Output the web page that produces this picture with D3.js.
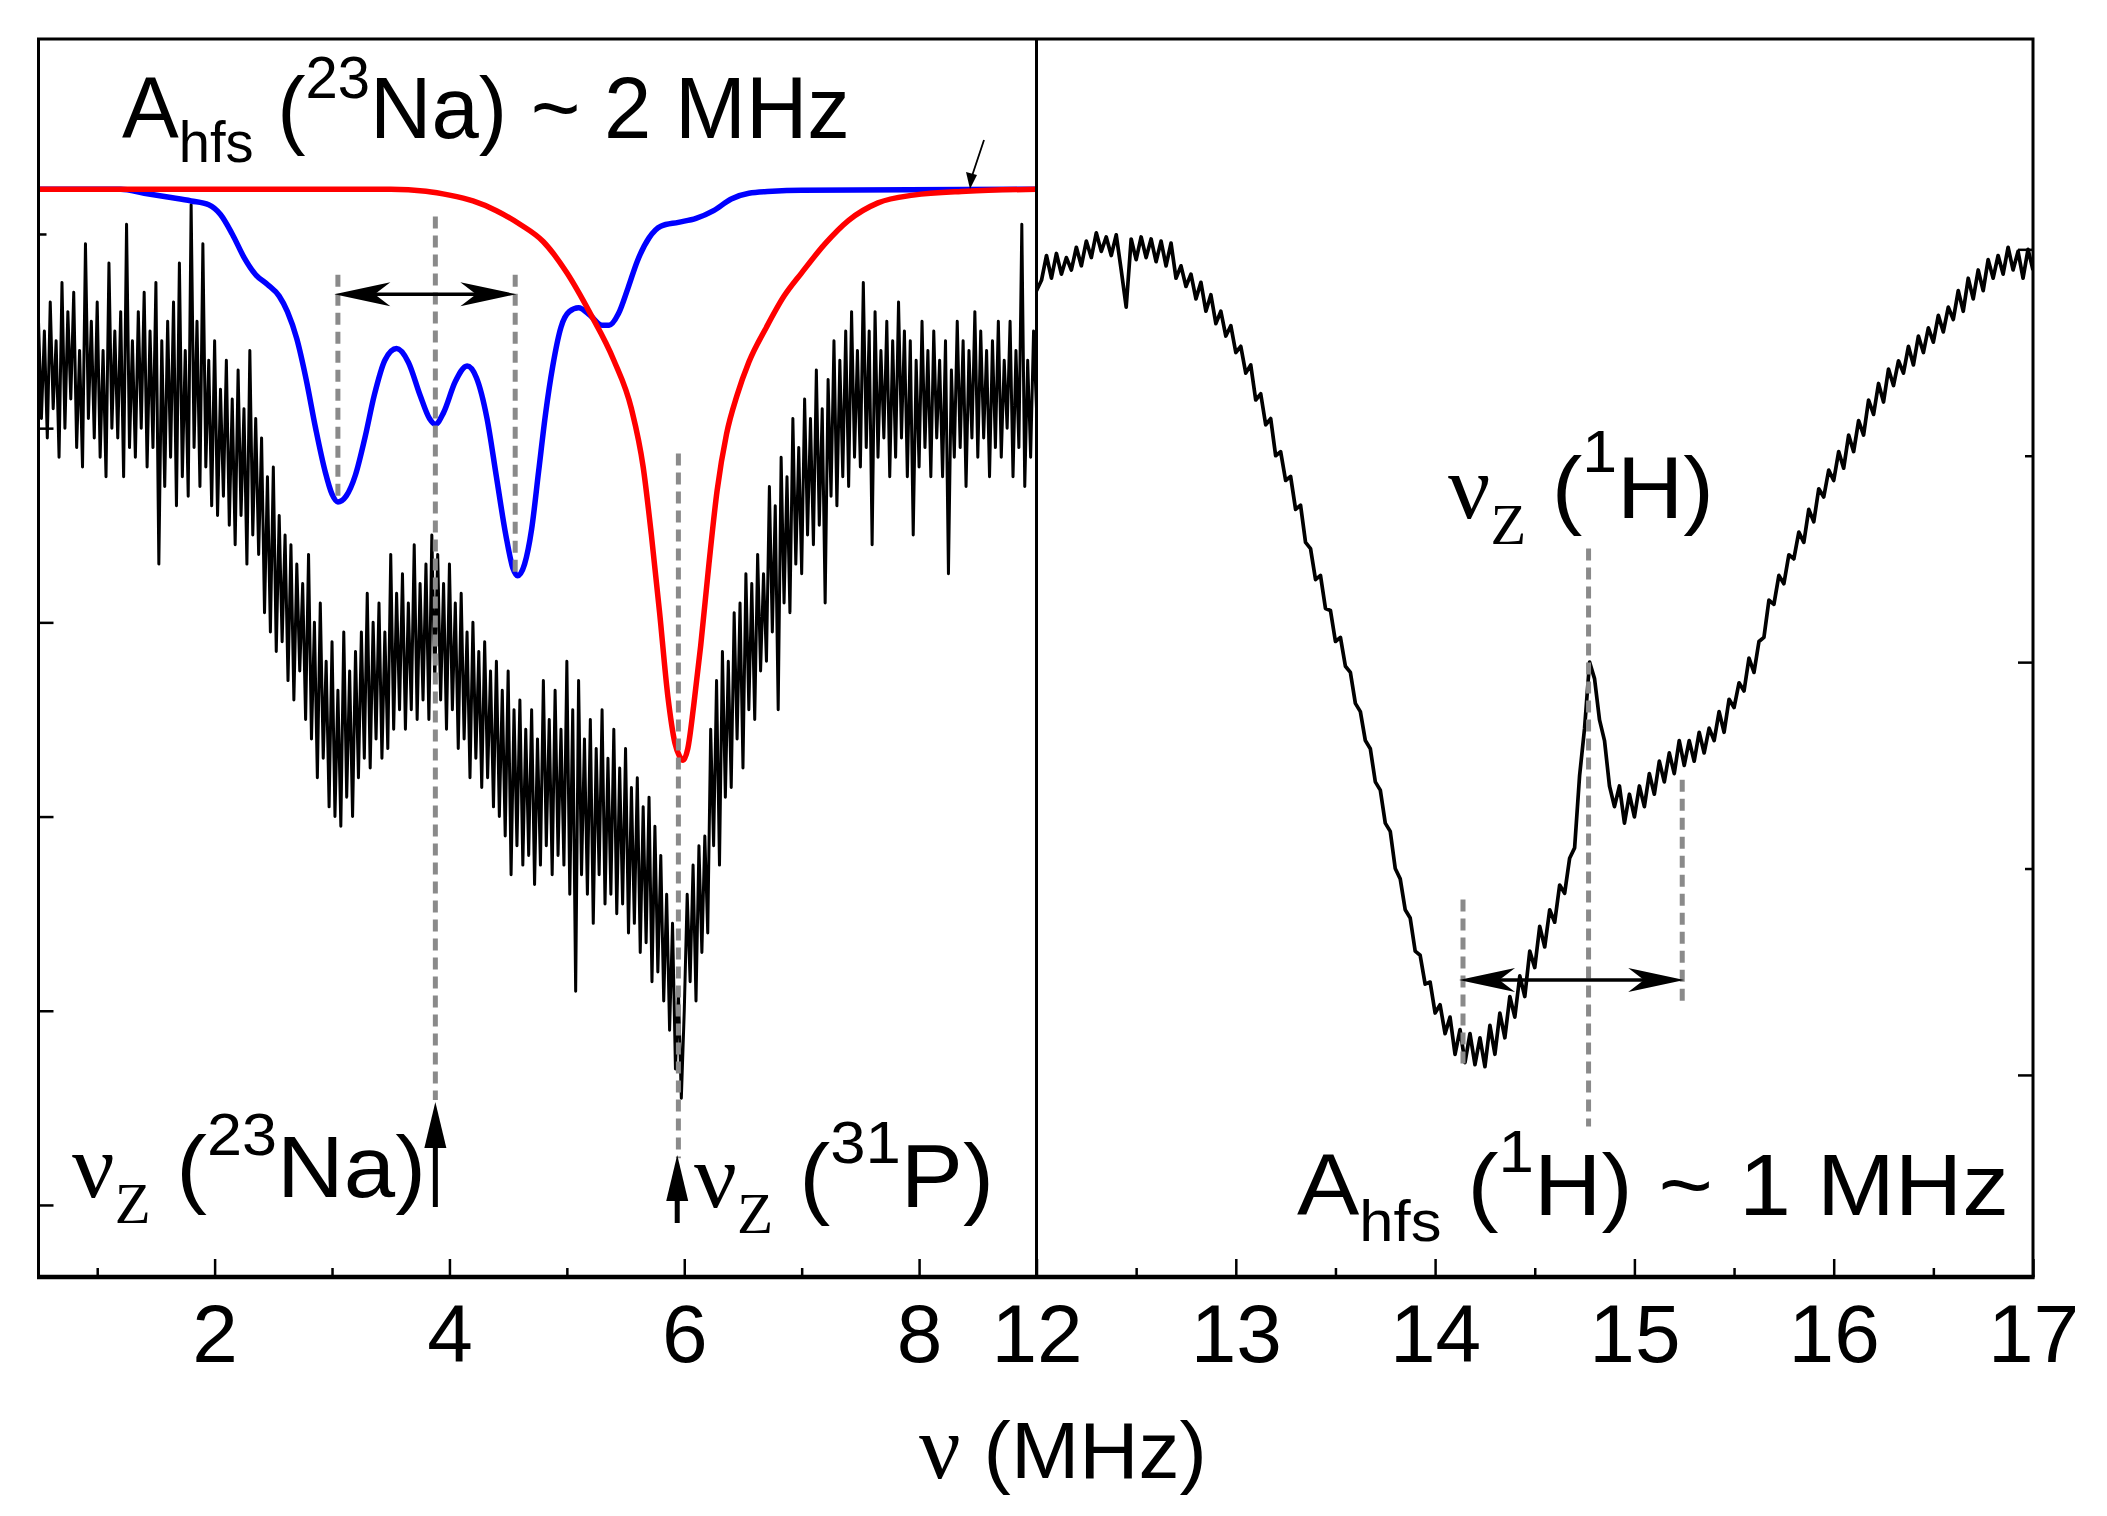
<!DOCTYPE html>
<html>
<head>
<meta charset="utf-8">
<script src="https://cdn.jsdelivr.net/npm/d3@7"></script>
<style>
  body { margin: 0; background: #fff; }
  text { fill: #000; }
</style>
</head>
<body>
<svg id="chart" width="2107" height="1516"></svg>
<script>
// ---- data ----
// left panel: measured trace, 0.5 .. 9 MHz every 0.025 MHz (one row = 0.5 MHz)
const naStart = 0.5, naStep = 0.025;
const naSignal = [
  4.55, 4.05, 4.50, 3.95, 4.65, 4.10, 4.45, 3.85, 4.75, 4.00, 4.60, 4.15, 4.70, 3.90, 4.40, 3.80, 4.95, 4.05, 4.55, 3.95,
  4.65, 3.85, 4.40, 3.75, 4.85, 4.00, 4.50, 3.95, 4.60, 3.75, 5.05, 3.90, 4.45, 3.85, 4.60, 4.00, 4.70, 3.80, 4.50, 3.90,
  4.75, 3.30, 4.45, 3.70, 4.55, 3.85, 4.65, 3.60, 4.85, 3.75, 4.40, 3.65, 5.15, 3.90, 4.55, 3.70, 4.95, 3.80, 4.35, 3.60,
  4.45, 3.55, 4.20, 3.65, 4.35, 3.50, 4.15, 3.40, 4.30, 3.55, 4.10, 3.30, 4.40, 3.45, 4.05, 3.35, 3.95, 3.05, 3.75, 2.95,
  3.80, 2.85, 3.55, 2.90, 3.45, 2.70, 3.40, 2.60, 3.30, 2.75, 3.20, 2.50, 3.35, 2.40, 3.00, 2.20, 3.10, 2.30, 2.80, 2.05,
  2.90, 2.00, 2.65, 1.95, 2.95, 2.10, 2.75, 2.00, 2.85, 2.20, 2.95, 2.30, 3.15, 2.25, 3.00, 2.40, 3.10, 2.30, 2.95, 2.35,
  3.35, 2.45, 3.15, 2.55, 3.25, 2.45, 3.10, 2.55, 3.40, 2.50, 3.20, 2.60, 3.30, 2.50, 3.45, 2.70, 3.35, 2.60, 3.20, 2.45,
  3.30, 2.55, 3.10, 2.35, 3.15, 2.40, 2.95, 2.20, 3.00, 2.30, 2.85, 2.15, 2.90, 2.20, 2.75, 2.05, 2.80, 2.00, 2.65, 1.90,
  2.75, 1.70, 2.55, 1.85, 2.60, 1.75, 2.45, 1.80, 2.55, 1.65, 2.40, 1.75, 2.70, 1.85, 2.50, 1.70, 2.65, 1.80, 2.45, 1.75,
  2.80, 1.60, 2.55, 1.10, 2.70, 1.70, 2.40, 1.60, 2.50, 1.45, 2.35, 1.70, 2.55, 1.55, 2.30, 1.60, 2.45, 1.50, 2.25, 1.55,
  2.35, 1.40, 2.15, 1.45, 2.20, 1.30, 2.05, 1.35, 2.10, 1.15, 1.95, 1.20, 1.80, 1.05, 1.60, 0.90, 1.45, 0.70, 1.10, 0.55,
  1.00, 1.60, 1.15, 1.75, 1.05, 1.85, 1.30, 1.90, 1.40, 2.45, 1.85, 2.70, 1.75, 2.85, 2.10, 2.80, 2.15, 3.05, 2.40, 3.10,
  2.25, 3.25, 2.55, 3.20, 2.50, 3.35, 2.75, 3.25, 2.80, 3.70, 2.95, 3.60, 2.55, 3.85, 3.10, 3.75, 3.05, 4.05, 3.30, 3.90,
  3.25, 4.15, 3.45, 4.05, 3.40, 4.30, 3.50, 4.10, 3.10, 4.25, 3.65, 4.45, 3.60, 4.35, 3.75, 4.50, 3.70, 4.60, 3.85, 4.40,
  3.80, 4.75, 3.90, 4.50, 3.40, 4.60, 3.85, 4.40, 3.95, 4.55, 3.75, 4.45, 3.85, 4.65, 3.95, 4.50, 3.75, 4.45, 3.45, 4.35,
  3.80, 4.55, 3.90, 4.40, 3.75, 4.50, 3.95, 4.35, 3.75, 4.45, 3.25, 4.30, 3.85, 4.55, 3.90, 4.45, 3.70, 4.40, 3.95, 4.60,
  3.85, 4.50, 3.95, 4.40, 3.75, 4.45, 3.90, 4.55, 3.85, 4.35, 4.00, 4.55, 3.75, 4.40, 3.90, 5.05, 3.70, 4.35, 3.85, 4.50,
  4.10
];

// right panel: measured trace, 12 .. 17 MHz every 0.025 MHz
const hStart = 12.0, hStep = 0.025;
const hSignal = [
  3.80, 3.85, 3.97, 3.86, 3.98, 3.88, 3.96, 3.90, 4.01, 3.92,
  4.04, 3.96, 4.08, 3.99, 4.06, 3.97, 4.07, 3.90, 3.72, 4.05,
  3.95, 4.06, 3.96, 4.05, 3.94, 4.04, 3.92, 4.03, 3.86, 3.92,
  3.82, 3.88, 3.76, 3.84, 3.70, 3.78, 3.64, 3.70, 3.58, 3.63,
  3.50, 3.53, 3.40, 3.44, 3.27, 3.30, 3.15, 3.18, 3.00, 3.02,
  2.88, 2.90, 2.74, 2.76, 2.58, 2.55, 2.40, 2.42, 2.26, 2.25,
  2.10, 2.12, 1.98, 1.95, 1.80, 1.76, 1.62, 1.58, 1.42, 1.38,
  1.22, 1.18, 1.00, 0.95, 0.80, 0.76, 0.60, 0.58, 0.44, 0.45,
  0.30, 0.34, 0.20, 0.28, 0.10, 0.22, 0.06, 0.20, 0.05, 0.18,
  0.04, 0.24, 0.10, 0.30, 0.18, 0.38, 0.28, 0.48, 0.38, 0.60,
  0.52, 0.72, 0.62, 0.80, 0.74, 0.92, 0.88, 1.05, 1.10, 1.45,
  1.68, 2.00, 1.92, 1.72, 1.62, 1.40, 1.30, 1.40, 1.22, 1.36,
  1.25, 1.40, 1.30, 1.46, 1.36, 1.52, 1.42, 1.56, 1.46, 1.62,
  1.50, 1.62, 1.52, 1.66, 1.56, 1.68, 1.62, 1.76, 1.66, 1.82,
  1.78, 1.90, 1.86, 2.02, 1.95, 2.10, 2.12, 2.30, 2.28, 2.42,
  2.38, 2.52, 2.50, 2.63, 2.58, 2.74, 2.68, 2.84, 2.80, 2.93,
  2.88, 3.02, 2.94, 3.10, 3.02, 3.17, 3.10, 3.27, 3.20, 3.35,
  3.26, 3.42, 3.34, 3.46, 3.40, 3.53, 3.44, 3.58, 3.50, 3.62,
  3.55, 3.68, 3.60, 3.72, 3.66, 3.80, 3.70, 3.86, 3.76, 3.90,
  3.80, 3.95, 3.86, 3.97, 3.88, 4.01, 3.90, 3.99, 3.86, 4.00,
  3.90
];

// simulated spectra (left panel)
const blueFreq = [0.5, 1.2, 1.4, 1.6, 1.8, 1.95, 2.05, 2.15, 2.25, 2.35, 2.45, 2.55, 2.62, 2.70, 2.78,
  2.86, 2.94, 3.00, 3.05, 3.12, 3.20, 3.28, 3.36, 3.45, 3.55, 3.65, 3.75, 3.83, 3.88, 3.95, 4.05,
  4.15, 4.23, 4.32, 4.40, 4.48, 4.54, 4.58, 4.64, 4.70, 4.76, 4.82, 4.88, 4.95, 5.02, 5.10, 5.20,
  5.30, 5.36, 5.44, 5.52, 5.60, 5.70, 5.80, 5.95, 6.10, 6.25, 6.40, 6.55, 6.75, 7.0, 9.0];
const blueVal = [5.23, 5.23, 5.21, 5.19, 5.17, 5.15, 5.10, 5.00, 4.88, 4.79, 4.74, 4.68, 4.60, 4.46, 4.25,
  4.00, 3.78, 3.66, 3.62, 3.65, 3.76, 3.95, 4.17, 4.35, 4.41, 4.34, 4.17, 4.05, 4.02, 4.08, 4.24,
  4.32, 4.26, 4.05, 3.75, 3.45, 3.28, 3.24, 3.30, 3.48, 3.78, 4.08, 4.32, 4.52, 4.60, 4.62, 4.58,
  4.53, 4.53, 4.59, 4.72, 4.86, 4.98, 5.04, 5.06, 5.08, 5.12, 5.18, 5.21, 5.22, 5.225, 5.23];
const redFreq = [0.5, 3.5, 3.8, 4.0, 4.2, 4.4, 4.6, 4.8, 5.0, 5.2, 5.4, 5.55, 5.65, 5.72, 5.79, 5.86, 5.92,
  5.96, 5.99, 6.03, 6.08, 6.14, 6.21, 6.28, 6.36, 6.45, 6.55, 6.70, 6.85, 7.0, 7.2, 7.4, 7.65, 7.95, 8.4, 9.0];
const redVal = [5.23, 5.23, 5.22, 5.20, 5.17, 5.12, 5.05, 4.96, 4.80, 4.59, 4.35, 4.10, 3.80, 3.45, 3.05, 2.62, 2.38,
  2.31, 2.29, 2.35, 2.57, 2.88, 3.30, 3.68, 3.97, 4.17, 4.34, 4.52, 4.68, 4.80, 4.95, 5.07, 5.16, 5.20, 5.22, 5.23];

// ticks
const leftMajor = [2, 4, 6, 8];
const leftMinor = [1, 3, 5, 7];
const rightMajor = [12, 13, 14, 15, 16, 17];
const rightMinor = [12.5, 13.5, 14.5, 15.5, 16.5];
const leftYMajor = [0, 1, 2, 3, 4];
const leftYMinor = [5];
const rightYMajor = [0, 2, 4];
const rightYMinor = [1, 3];

// ---- layout ----
const W = 2107, H = 1516;
const plotTop = 39, plotBottom = 1277;
const leftX0 = 38.5, midX = 1036.5, rightX1 = 2033;
const SANS = '"Liberation Sans", Arial, sans-serif';
const SERIF = '"Liberation Serif", "Times New Roman", serif';

const xL = d3.scaleLinear().domain([0.5, 9]).range([leftX0, midX]);
const xR = d3.scaleLinear().domain([12, 17]).range([midX, rightX1]);
const yL = d3.scaleLinear().domain([-0.371, 6.004]).range([plotBottom, plotTop]);
const yR = d3.scaleLinear().domain([-0.979, 5.019]).range([plotBottom, plotTop]);

const svg = d3.select('#chart');
svg.append('rect').attr('width', W).attr('height', H).attr('fill', '#fff');

const defs = svg.append('defs');
defs.append('clipPath').attr('id', 'clipL').append('rect')
  .attr('x', leftX0).attr('y', plotTop).attr('width', midX - leftX0).attr('height', plotBottom - plotTop);
defs.append('clipPath').attr('id', 'clipR').append('rect')
  .attr('x', midX).attr('y', plotTop).attr('width', rightX1 - midX).attr('height', plotBottom - plotTop);

// ---- traces ----
const naPts = naSignal.map((v, i) => [naStart + i * naStep, v]);
const hPts = hSignal.map((v, i) => [hStart + i * hStep, v]);

const lineL = d3.line().x(d => xL(d[0])).y(d => yL(d[1]));
const lineR = d3.line().x(d => xR(d[0])).y(d => yR(d[1]));
const smoothL = d3.line().x(d => xL(d[0])).y(d => yL(d[1])).curve(d3.curveMonotoneX);

const gL = svg.append('g').attr('clip-path', 'url(#clipL)');
gL.append('path').attr('d', lineL(naPts))
  .attr('fill', 'none').attr('stroke', '#000').attr('stroke-width', 3).attr('stroke-linejoin', 'round');
gL.append('path').attr('d', smoothL(blueFreq.map((f, i) => [f, blueVal[i]])))
  .attr('fill', 'none').attr('stroke', '#0000ff').attr('stroke-width', 5.5);
gL.append('path').attr('d', smoothL(redFreq.map((f, i) => [f, redVal[i]])))
  .attr('fill', 'none').attr('stroke', '#ff0000').attr('stroke-width', 5.5);

const gR = svg.append('g').attr('clip-path', 'url(#clipR)');
gR.append('path').attr('d', lineR(hPts))
  .attr('fill', 'none').attr('stroke', '#000').attr('stroke-width', 3.7).attr('stroke-linejoin', 'round');

// ---- dashed guide lines ----
const dashL = [[3.05, 4.79, 3.63], [3.88, 5.09, 0.54], [4.56, 4.79, 3.25], [5.95, 3.87, 0.24]];
const dashR = [[14.14, 0.85, 0.05], [14.77, 2.55, -0.25], [15.24, 1.43, 0.34]];
function dashed(x, y1, y2) {
  svg.append('line').attr('x1', x).attr('x2', x).attr('y1', y1).attr('y2', y2)
    .attr('stroke', '#8a8a8a').attr('stroke-width', 5).attr('stroke-dasharray', '12 7');
}
dashL.forEach(d => dashed(xL(d[0]), yL(d[1]), yL(d[2])));
dashR.forEach(d => dashed(xR(d[0]), yR(d[1]), yR(d[2])));

// ---- arrows ----
function barb(x, y, dir) { // dir = +1 head points right, -1 head points left
  const L = 56, Wd = 12;
  return `M${x},${y} L${x - dir * L},${y - Wd} L${x - dir * L * 0.72},${y} L${x - dir * L},${y + Wd} Z`;
}
function doubleArrow(x1, x2, y) {
  svg.append('line').attr('x1', x1 + 10).attr('x2', x2 - 10).attr('y1', y).attr('y2', y)
    .attr('stroke', '#000').attr('stroke-width', 3.5);
  svg.append('path').attr('d', barb(x1, y, -1)).attr('fill', '#000');
  svg.append('path').attr('d', barb(x2, y, 1)).attr('fill', '#000');
}
doubleArrow(xL(3.02), xL(4.57), yL(4.69));
doubleArrow(xR(14.12), xR(15.25), yR(0.46));

function upArrow(x, yBase, yTip) {
  svg.append('line').attr('x1', x).attr('x2', x).attr('y1', yBase).attr('y2', yTip + 30)
    .attr('stroke', '#000').attr('stroke-width', 5);
  svg.append('path').attr('d', `M${x},${yTip} L${x - 11},${yTip + 46} L${x + 11},${yTip + 46} Z`).attr('fill', '#000');
}
upArrow(xL(3.88), 1207, 1102);
upArrow(xL(5.94), 1223, 1155);

// small pointer onto the baseline
svg.append('line').attr('x1', 984).attr('y1', 140).attr('x2', 972).attr('y2', 176)
  .attr('stroke', '#000').attr('stroke-width', 1.8);
svg.append('path').attr('d', 'M970,189 L966,172 L977,175 Z').attr('fill', '#000');

// ---- frame and axes ----
const frame = svg.append('g').attr('fill', 'none').attr('stroke', '#000');
frame.append('rect').attr('x', leftX0).attr('y', plotTop)
  .attr('width', rightX1 - leftX0).attr('height', plotBottom - plotTop).attr('stroke-width', 3);
frame.append('line').attr('x1', midX).attr('x2', midX).attr('y1', plotTop).attr('y2', plotBottom)
  .attr('stroke-width', 3);
frame.append('line').attr('x1', leftX0 - 1.5).attr('x2', rightX1 + 1.5).attr('y1', plotBottom).attr('y2', plotBottom)
  .attr('stroke-width', 4.5);

function styleAxis(g) {
  g.select('.domain').remove();
  g.selectAll('.tick line').attr('stroke', '#000').attr('stroke-width', 2.5);
  g.selectAll('.tick text').attr('font-family', SANS).attr('font-size', 82).attr('fill', '#000');
}
svg.append('g').attr('transform', `translate(0,${plotBottom})`)
  .call(d3.axisBottom(xL).tickValues(leftMajor).tickSizeInner(-18).tickSizeOuter(0).tickPadding(27).tickFormat(d3.format('d')))
  .call(styleAxis);
svg.append('g').attr('transform', `translate(0,${plotBottom})`)
  .call(d3.axisBottom(xL).tickValues(leftMinor).tickSizeInner(-9).tickSizeOuter(0).tickFormat(''))
  .call(styleAxis);
svg.append('g').attr('transform', `translate(0,${plotBottom})`)
  .call(d3.axisBottom(xR).tickValues(rightMajor).tickSizeInner(-18).tickSizeOuter(0).tickPadding(27).tickFormat(d3.format('d')))
  .call(styleAxis);
svg.append('g').attr('transform', `translate(0,${plotBottom})`)
  .call(d3.axisBottom(xR).tickValues(rightMinor).tickSizeInner(-9).tickSizeOuter(0).tickFormat(''))
  .call(styleAxis);

svg.append('g').attr('transform', `translate(${leftX0},0)`)
  .call(d3.axisLeft(yL).tickValues(leftYMajor).tickSizeInner(-15).tickSizeOuter(0).tickFormat(''))
  .call(styleAxis);
svg.append('g').attr('transform', `translate(${leftX0},0)`)
  .call(d3.axisLeft(yL).tickValues(leftYMinor).tickSizeInner(-8).tickSizeOuter(0).tickFormat(''))
  .call(styleAxis);
svg.append('g').attr('transform', `translate(${rightX1},0)`)
  .call(d3.axisRight(yR).tickValues(rightYMajor).tickSizeInner(-15).tickSizeOuter(0).tickFormat(''))
  .call(styleAxis);
svg.append('g').attr('transform', `translate(${rightX1},0)`)
  .call(d3.axisRight(yR).tickValues(rightYMinor).tickSizeInner(-8).tickSizeOuter(0).tickFormat(''))
  .call(styleAxis);

// ---- labels ----
// text built from tspans, then squeezed/stretched horizontally to the width seen in the figure
function rich(x, y, width, parts) {
  const g = svg.append('g');
  const t = g.append('text').attr('x', 0).attr('y', 0);
  parts.forEach(p => {
    t.append('tspan').text(p.t)
      .attr('font-family', p.serif ? SERIF : SANS)
      .attr('font-size', p.s)
      .attr('dy', p.dy || 0)
      .attr('xml:space', 'preserve');
  });
  const bb = t.node().getBBox();
  const k = width / bb.width;
  g.attr('transform', `translate(${x - bb.x * k},${y}) scale(${k},1)`);
  return g;
}

rich(122, 138, 728, [
  { t: 'A', s: 88 }, { t: 'hfs', s: 58, dy: 24 }, { t: ' (', s: 88, dy: -24 },
  { t: '23', s: 60, dy: -40 }, { t: 'Na) ~ 2 MHz', s: 88, dy: 40 }
]);
rich(72, 1197, 354, [
  { t: '\u03BD', s: 90, serif: true }, { t: 'Z', s: 56, serif: true, dy: 26 },
  { t: ' (', s: 88, dy: -26 }, { t: '23', s: 60, dy: -42 }, { t: 'Na)', s: 88, dy: 42 }
]);
rich(694, 1207, 300, [
  { t: '\u03BD', s: 90, serif: true }, { t: 'Z', s: 56, serif: true, dy: 26 },
  { t: ' (', s: 88, dy: -26 }, { t: '31', s: 60, dy: -44 }, { t: 'P)', s: 88, dy: 44 }
]);
rich(1448, 518, 266, [
  { t: '\u03BD', s: 90, serif: true }, { t: 'Z', s: 56, serif: true, dy: 26 },
  { t: ' (', s: 88, dy: -26 }, { t: '1', s: 60, dy: -46 }, { t: 'H)', s: 88, dy: 46 }
]);
rich(1297, 1215, 712, [
  { t: 'A', s: 88 }, { t: 'hfs', s: 58, dy: 26 }, { t: ' (', s: 88, dy: -26 },
  { t: '1', s: 60, dy: -43 }, { t: 'H) ~ 1 MHz', s: 88, dy: 43 }
]);

// x-axis title
rich(919, 1478, 288, [
  { t: '\u03BD', s: 90, serif: true }, { t: ' (MHz)', s: 80 }
]);
</script>
</body>
</html>
